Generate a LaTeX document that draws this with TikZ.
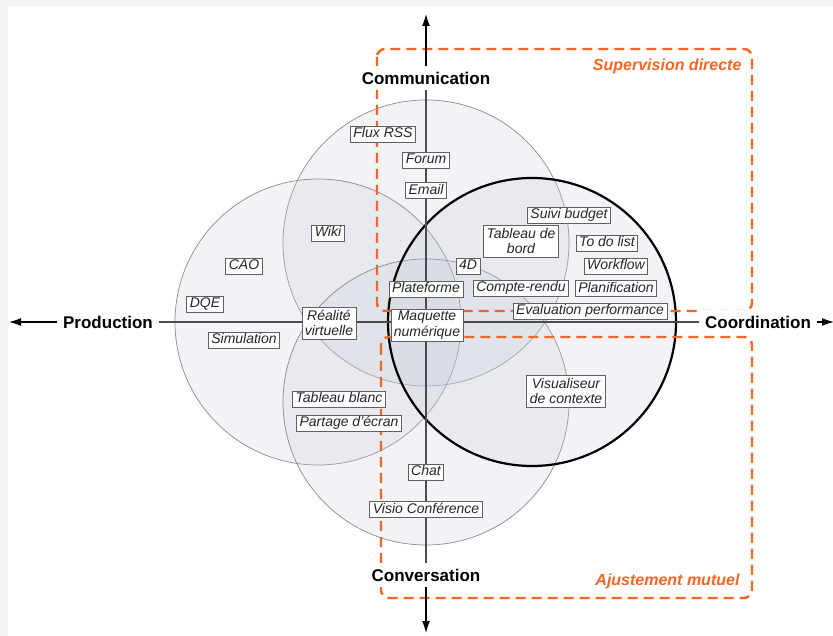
\documentclass[tikz,border=0pt]{standalone}
\usepackage{fontspec}
\setmainfont{Liberation Sans}
\usepackage{tikz}
\usetikzlibrary{arrows.meta,positioning}

\definecolor{zoneorange}{RGB}{242,101,34}
\definecolor{venngray}{RGB}{200,204,218}

\begin{document}
\begin{tikzpicture}[
  x=1pt, y=-1pt,
  tool/.style={draw=gray!75!black, fill=white, line width=0.7pt, text=black!85,
    font=\fontsize{14}{15.5}\selectfont\itshape, inner xsep=3pt, inner ysep=1.5pt,
    text height=10pt, text depth=2.8pt},
  tooltwo/.style={draw=gray!75!black, fill=white, line width=0.7pt, text=black!85,
    font=\fontsize{14}{15.5}\selectfont\itshape, inner xsep=3pt, inner ysep=1pt,
    align=center, minimum height=32pt},
  axislbl/.style={font=\fontsize{17}{20}\selectfont\bfseries, fill=white, inner sep=6pt},
  zone/.style={draw=zoneorange, line width=2.4pt, dash pattern=on 10pt off 6pt,
    rounded corners=8pt},
  zonelbl/.style={text=zoneorange, font=\fontsize{16}{18}\selectfont\bfseries\itshape,
    anchor=east},
  venn/.style={draw=gray!90, line width=0.7pt, fill=venngray, fill opacity=0.22},
  arr/.style={-{Latex[length=12pt,width=8pt]}, line width=1.2pt},
  axisline/.style={gray!60!black, line width=1.2pt}
]
\useasboundingbox (0,0) rectangle (833,636);
\fill[gray!8] (0,0) rectangle (833,636);
\fill[white] (8,6) rectangle (833,636);

% the four domains
\path[venn] (426,243) circle (143pt);
\path[venn] (318,322) circle (143pt);
\path[venn] (426,402) circle (143pt);
\path[venn, draw=black, line width=2.2pt] (532,322) circle (144pt);

% coordination mechanisms
\draw[zone] (377,49) rectangle (752,311);
\draw[zone] (381,337) rectangle (752,598);
\node[zonelbl] (supervision) at (745,66) {Supervision directe};
\node[zonelbl] (ajustement) at (743,581) {Ajustement mutuel};

% axes
\coordinate (north) at (426,14);
\coordinate (south) at (426,633);
\coordinate (west) at (9,322);
\coordinate (east) at (834,322);
\node[axislbl] (communication) at (426,78) {Communication};
\node[axislbl] (conversation) at (426,575) {Conversation};
\node[axislbl] (production) at (108,322) {Production};
\node[axislbl] (coordination) at (758,322) {Coordination};
\draw[axisline] (communication) -- (conversation);
\draw[axisline] (production) -- (coordination);
\draw[arr] (communication) -- (north);
\draw[arr] (conversation) -- (south);
\draw[arr] (production) -- (west);
\draw[arr] (coordination) -- (east);

% tools
\node[tool] (flux) at (383,134) {Flux RSS};
\node[tool] (forum) at (426,160) {Forum};
\node[tool, below=14pt of forum] (email) {Email};
\node[tool] (wiki) at (328,233) {Wiki};
\node[tool] (cao) at (244,266) {CAO};
\node[tool] (dqe) at (205,304) {DQE};
\node[tool] (simulation) at (244,340) {Simulation};
\node[tooltwo] (realite) at (329,323) {Réalité\\virtuelle};
\node[tool] (plateforme) at (426,289) {Plateforme};
\node[tooltwo] (maquette) at (427,325) {Maquette\\numérique};
\node[tool] (quatred) at (468,266) {4D};
\node[tooltwo] (tableau) at (521,241) {Tableau de\\bord};
\node[tool] (budget) at (569,215) {Suivi budget};
\node[tool] (todo) at (607,243) {To do list};
\node[tool] (workflow) at (616,266) {Workflow};
\node[tool, below=6pt of workflow] (planif) {Planification};
\node[tool] (compte) at (521,288) {Compte-rendu};
\node[tool] (evaluation) at (590,311) {Evaluation performance};
\node[tooltwo] (visualiseur) at (566,391) {Visualiseur\\de contexte};
\node[tool] (blanc) at (339,399) {Tableau blanc};
\node[tool] (partage) at (349,423) {Partage d'écran};
\node[tool] (chat) at (426,472) {Chat};
\node[tool, below=21pt of chat] (visio) {Visio Conférence};
\end{tikzpicture}
\end{document}
